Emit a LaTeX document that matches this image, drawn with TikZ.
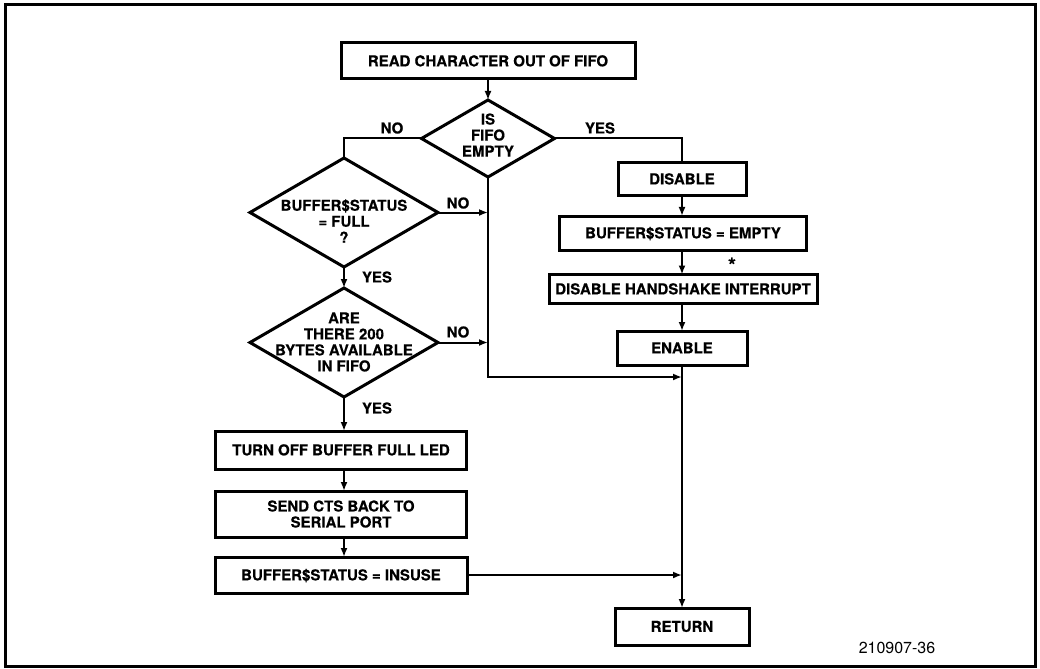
\documentclass[tikz,border=0pt]{standalone}
\usepackage{fontspec}
\setmainfont{TeX Gyre Heros}[BoldFeatures={FakeBold=0.4}]
\usetikzlibrary{shapes.geometric,arrows.meta}
\begin{document}
\begin{tikzpicture}[x=1bp,y=-1bp,
  every node/.style={inner sep=0pt, outer sep=0pt},
  lbl/.style={font=\fontsize{15bp}{16bp}\selectfont\bfseries},
  proc/.style={draw, line width=3bp, lbl, text height=10.7bp, text depth=0bp},
  proc2/.style={draw, line width=3bp, lbl, align=center},
  dec/.style={draw, diamond, line width=3bp, minimum width=188bp, minimum height=109bp},
  dtext/.style={lbl, align=center},
  flow/.style={line width=2bp},
  arr/.style={flow, -{Latex[length=9bp,width=7bp]}},
]
\useasboundingbox (0,0) rectangle (1040,669);
% outer frame
\draw[line width=3bp] (5,5) rectangle (1035,666);

% main decision chain
\node[proc, minimum width=294bp, minimum height=36bp] (read) at (488,61) {READ CHARACTER OUT OF FIFO};
\node[dec, minimum width=133bp, minimum height=77bp] (d1) at (488,138.5) {};
\node[dtext] (d1t) at (488,135) {IS\\FIFO\\EMPTY};
\node[dec] (d2) at (344,212.5) {};
\node[dtext] (d2t) at (344,221) {BUFFER\$STATUS\\= FULL\\?};
\node[dec] (d3) at (344,342.5) {};
\node[dtext] (d3t) at (344,342) {ARE\\THERE 200\\BYTES AVAILABLE\\IN FIFO};

% left column
\node[proc, minimum width=251bp, minimum height=38bp] (led) at (341,450) {TURN OFF BUFFER FULL LED};
\node[proc2, minimum width=251bp, minimum height=46bp] (cts) at (341,514) {SEND CTS BACK TO\\SERIAL PORT};
\node[proc, minimum width=252bp, minimum height=36bp] (ins) at (341,575) {BUFFER\$STATUS = INSUSE};

% right column
\node[proc, minimum width=128bp, minimum height=32bp] (dis) at (682,179) {DISABLE};
\node[proc, minimum width=247bp, minimum height=34bp] (emp) at (683,233) {BUFFER\$STATUS = EMPTY};
\node[proc, minimum width=268bp, minimum height=29bp] (hs) at (683,289) {DISABLE HANDSHAKE INTERRUPT};
\node[proc, minimum width=130bp, minimum height=34bp] (ena) at (682,348) {ENABLE};
\node[proc, minimum width=134bp, minimum height=37bp] (ret) at (682,626.5) {RETURN};
\coordinate (m1) at (682,377);

% connectors
\draw[arr] (read.south) -- (d1.north);
\draw[flow] (d1.west) -| (d2.north);
\draw[flow] (d1.east) -| (dis.north);
\draw[arr] (d1.south) |- (m1);
\draw[arr] (d2.east) -- (d2.east -| d1.south);
\draw[arr] (d3.east) -- (d3.east -| d1.south);
\draw[arr] (d2.south) -- (d3.north);
\draw[arr] (d3.south) -- (d3.south |- led.north);
\draw[arr] (led.south -| d3.south) -- (d3.south |- cts.north);
\draw[arr] (cts.south -| d3.south) -- (d3.south |- ins.north);
\draw[arr] (ins.east) -- (ins.east -| ret.north);
\draw[arr] (dis) -- (dis |- emp.north);
\draw[arr] (dis |- emp.south) -- (dis |- hs.north);
\draw[arr] (dis |- hs.south) -- (ena);
\draw[arr] (ena.south) -- (ret.north);

% branch labels
\node[lbl] (no1) at (392,128) {NO};
\node[lbl] (yes1) at (600,128) {YES};
\node[lbl] (no2) at (458,203) {NO};
\node[lbl] (yes2) at (377,277) {YES};
\node[lbl] (no3) at (458,332) {NO};
\node[lbl] (yes3) at (377,408) {YES};
\node[font=\fontsize{20bp}{20bp}\selectfont\bfseries] (star) at (732,265) {*};

% figure number
\node[font=\fontsize{16bp}{18bp}\selectfont] (code) at (897,648) {210907-36};
\end{tikzpicture}
\end{document}
